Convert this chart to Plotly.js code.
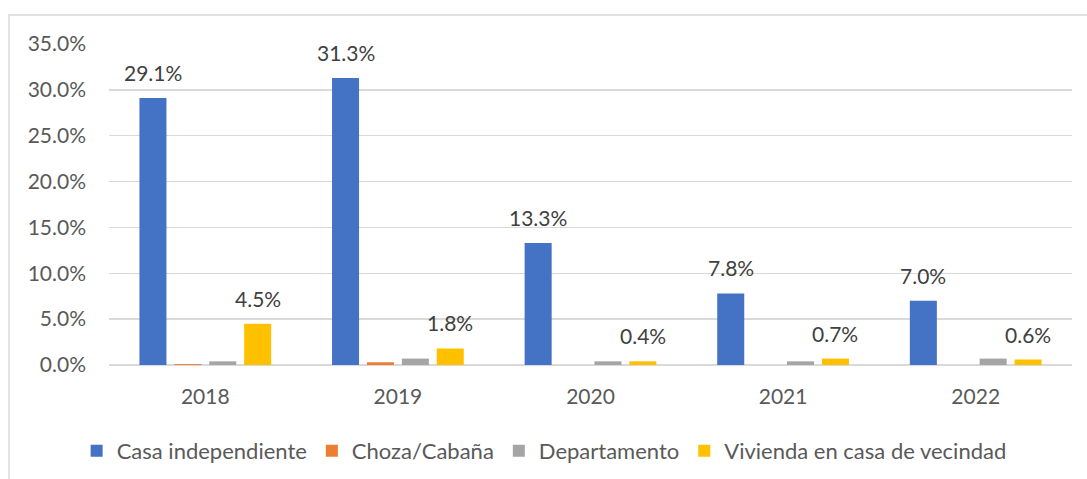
<!DOCTYPE html>
<html>
<head>
<meta charset="utf-8">
<script src="https://cdn.plot.ly/plotly-3.0.1.min.js"></script>
<style>html,body{margin:0;padding:0;background:#fff;}#chart{width:1087px;height:479px;}</style>
</head>
<body>
<div id="chart"></div>
<script>
const years = ['2018', '2019', '2020', '2021', '2022'];
const casaIndependiente = [0.291, 0.313, 0.133, 0.078, 0.070];
const chozaCabana = [0.001, 0.003, 0.000, 0.000, 0.000];
const departamento = [0.004, 0.007, 0.004, 0.004, 0.007];
const viviendaVecindad = [0.045, 0.018, 0.004, 0.007, 0.006];
const seriesNames = ['Casa independiente', 'Choza/Cabaña', 'Departamento', 'Vivienda en casa de vecindad'];
const colors = ['#4472C4', '#ED7D31', '#A5A5A5', '#FFC000'];
const yTicks = [0, 0.05, 0.10, 0.15, 0.20, 0.25, 0.30, 0.35];

const FONT = 'Lato, "Open Sans", sans-serif';
const seriesData = [casaIndependiente, chozaCabana, departamento, viviendaVecindad];

const traces = seriesData.map((vals, i) => ({
  type: 'bar',
  name: seriesNames[i],
  x: years,
  y: vals,
  marker: {color: colors[i], line: {width: 0}},
  hoverinfo: 'skip'
}));

// labels on first and last series (x given as category index)
const annotations = [];
const labelled = [[casaIndependiente, -52.3], [viviendaVecindad, 52.3]];
labelled.forEach(([vals, dx]) => {
  vals.forEach((v, j) => {
    annotations.push({
      x: j, y: v, xref: 'x', yref: 'y',
      text: (v * 100).toFixed(1) + '%',
      showarrow: false, xshift: dx, yshift: 25.5,
      xanchor: 'center', yanchor: 'middle',
      font: {family: FONT, size: 21, color: '#404040'}
    });
  });
});

const layout = {
  width: 1087, height: 479,
  margin: {l: 109, r: 15, t: 44, b: 113.5, pad: 0, autoexpand: false},
  paper_bgcolor: '#ffffff', plot_bgcolor: '#ffffff',
  barmode: 'group', bargap: 0.275, bargroupgap: 0.226,
  font: {family: FONT, size: 21, color: '#595959'},
  xaxis: {
    type: 'category', showgrid: false, zeroline: false, automargin: false,
    showline: false, ticks: '', ticklabelstandoff: 17,
    range: [-0.5, years.length - 0.5],
    tickfont: {family: FONT, size: 21, color: '#595959'}
  },
  yaxis: {
    range: [0, 0.35], tickvals: yTicks, tickformat: '.1%', automargin: false,
    showgrid: true, gridcolor: '#d9d9d9', gridwidth: 1.3,
    zeroline: true, zerolinecolor: '#d9d9d9', zerolinewidth: 1.3,
    showline: false, ticks: '', ticklabelstandoff: 22,
    tickfont: {family: FONT, size: 21, color: '#595959'}
  },
  legend: {
    orientation: 'h', xref: 'container', yref: 'container',
    x: 0.0705, xanchor: 'left', y: 0.0585, yanchor: 'middle',
    font: {family: FONT, size: 22, color: '#595959'},
    traceorder: 'normal', itemclick: false
  },
  annotations: annotations,
  shapes: [{
    type: 'rect', xref: 'paper', yref: 'paper',
    x0: -0.1038, x1: 1.2, y0: -0.6, y1: 1.090,
    line: {color: '#d9d9d9', width: 1.5}, fillcolor: 'rgba(0,0,0,0)', layer: 'below'
  }],
  showlegend: true
};

Plotly.newPlot('chart', traces, layout, {staticPlot: true, displayModeBar: false});
</script>
</body>
</html>
